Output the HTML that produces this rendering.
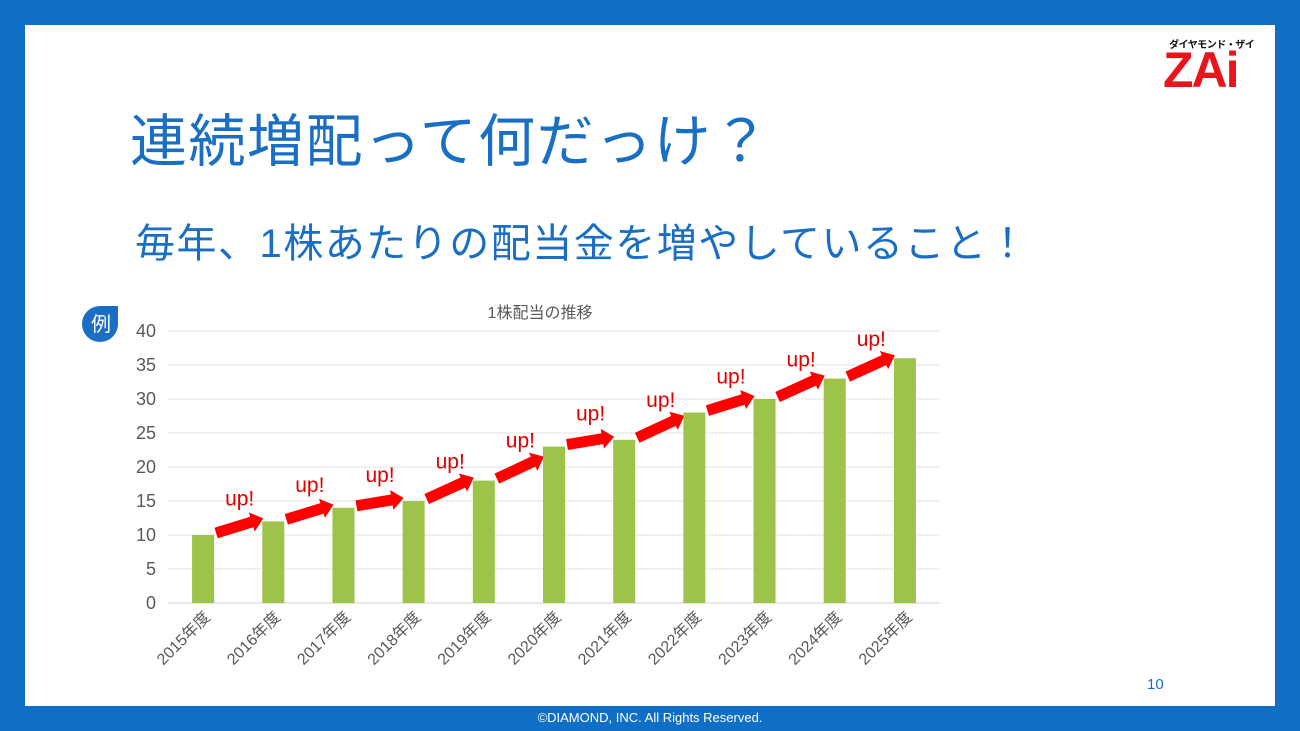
<!DOCTYPE html>
<html><head><meta charset="utf-8">
<style>
body{margin:0;width:1300px;height:731px;background:#0e6fc5;position:relative;overflow:hidden;font-family:"Liberation Sans","Noto Sans CJK JP",sans-serif;}
.inner{position:absolute;left:25px;top:25px;width:1250px;height:681px;background:#fff;}
.h1{position:absolute;left:130px;top:96px;font-size:57px;color:#1a6fc4;white-space:nowrap;letter-spacing:1.5px}
.h2{position:absolute;left:135px;top:211px;font-size:40px;color:#1a6fc4;white-space:nowrap;letter-spacing:1.5px}
.foot{position:absolute;left:0;width:1300px;top:710px;text-align:center;color:#fff;font-size:13px}
.pg{position:absolute;left:1147px;top:676px;color:#1a6fc4;font-size:15px}
</style></head><body>
<div class="inner"></div>
<div class="h1">連続増配って何だっけ？</div>
<div class="h2">毎年、1株あたりの配当金を増やしていること！</div>
<div style="position:absolute;left:1163px;top:36px;width:100px;height:60px">
 <div style="position:absolute;left:6px;top:0;font-size:10px;font-weight:bold;color:#111;white-space:nowrap;letter-spacing:-0.5px">ダイヤモンド・ザイ</div>
 <div style="position:absolute;left:0;top:10px;font-size:50px;line-height:48px;font-weight:bold;color:#e8161c;letter-spacing:-2px">ZAi</div>
</div>
<div class="pg">10</div>
<div class="foot">©DIAMOND, INC. All Rights Reserved.</div>
<svg width="1300" height="731" style="position:absolute;left:0;top:0">
<g id="g"></g>
</svg>
<script>
const categories=["2015年度","2016年度","2017年度","2018年度","2019年度","2020年度","2021年度","2022年度","2023年度","2024年度","2025年度"];
const values=[10,12,14,15,18,23,24,28,30,33,36];
const yTicks=[0,5,10,15,20,25,30,35,40];
const NS="http://www.w3.org/2000/svg";
const g=document.getElementById('g');
const x0=168,x1=940,yb=603,yt=331,ymax=40;
const step=(x1-x0)/categories.length;
const X=i=>x0+step*(i+0.5);
const Y=v=>yb-(yb-yt)*v/ymax;
function mk(t,a){const e=document.createElementNS(NS,t);for(const k in a)e.setAttribute(k,a[k]);g.appendChild(e);return e;}
let e=mk('text',{x:540,y:318,'text-anchor':'middle','font-size':16,fill:'#595959'});e.textContent='1株配当の推移';


e=mk('path',{d:'M100 306 A18 18 0 1 0 118 324 L118 306 Z',fill:'#1a6fc4'});


e=mk('text',{x:101,y:331,'text-anchor':'middle','font-size':20,fill:'#fff'});e.textContent='例';


yTicks.forEach(t=>{
 e=mk('line',{x1:x0,x2:x1,y1:Y(t),y2:Y(t),stroke:t===0?'#d0d0d0':'#e3e3e3','stroke-width':1});
 
 
 e=mk('text',{x:156,y:Y(t)+6,'text-anchor':'end','font-size':18,fill:'#595959'});e.textContent=t;
 
 
});
categories.forEach((c,i)=>{
 const v=values[i];
 e=mk('rect',{x:X(i)-11,y:Y(v),width:22,height:yb-Y(v),fill:'#9dc34a'});
 
 
 e=mk('text',{x:X(i)+8,y:618,'text-anchor':'end','font-size':16,fill:'#595959',transform:`rotate(-45 ${X(i)+8} 618)`});e.textContent=c;
 
 
 if(i<categories.length-1){
  const sx=X(i)+13,sy=Y(v)-2,ex=X(i+1)-10;
  const ey=sy-Math.min(sy-(Y(values[i+1])-3),22);
  const ang=Math.atan2(ey-sy,ex-sx)*180/Math.PI,len=Math.hypot(ex-sx,ey-sy);
  e=mk('path',{d:`M0 -5.5 L${len-12} -5.5 L${len-12} -10 L${len} 0 L${len-12} 10 L${len-12} 5.5 L0 5.5 Z`,fill:'#ff0000',transform:`translate(${sx} ${sy}) rotate(${ang})`});
  
  
  e=mk('text',{x:(sx+ex)/2,y:(sy+ey)/2-20,'text-anchor':'middle','font-size':21,fill:'#e00000'});e.textContent='up!';
  
  
 }
});
</script>
</body></html>
